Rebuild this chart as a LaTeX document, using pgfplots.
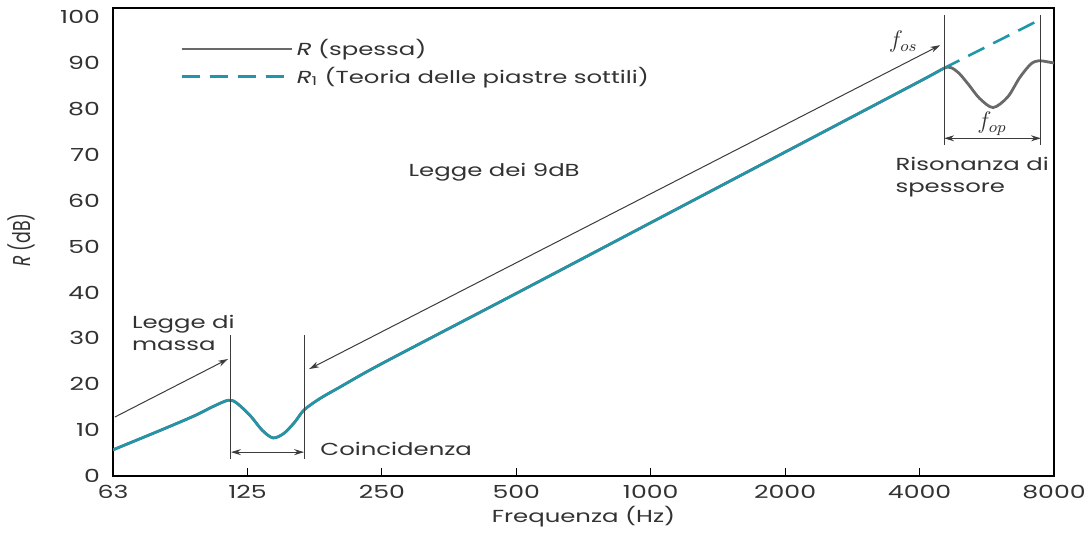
\documentclass[border=0pt]{standalone}
\usepackage{fontspec}
\usepackage{graphicx}
\setmainfont[FakeStretch=1.4]{Poppins}
\newfontfamily\uprightlabel{Poppins}
\usepackage{pgfplots}
\pgfplotsset{compat=1.18}
\usetikzlibrary{arrows.meta}

\definecolor{tealR}{RGB}{32,150,170}
\definecolor{grayR}{RGB}{105,105,105}
\definecolor{txt}{RGB}{50,50,50}
\definecolor{ann}{RGB}{60,60,60}

\begin{document}
\begin{tikzpicture}
\path[use as bounding box] (-56.5pt,-29pt) rectangle (486.5pt,238pt);
\begin{axis}[
  scale only axis,
  width=470.5pt, height=234pt,
  xmode=log, log basis x=2,
  xmin=62.5, xmax=8000,
  ymin=0, ymax=102,
  xtick={62.5,125,250,500,1000,2000,4000,8000},
  xticklabels={63,125,250,500,1000,2000,4000,8000},
  ytick={0,10,...,100},
  xtick pos=bottom, tick align=inside,
  ytick style={draw=none},
  major tick length=4pt,
  xtick style={line width=0.6pt, black},
  axis line style={line width=1pt, black},
  /pgf/number format/assume math mode=true,
  tick label style={font=\fontsize{9}{10}\selectfont, text=txt},
  xticklabel style={yshift=-1pt},
  yticklabel style={xshift=-3pt},
  xlabel={Frequenza (Hz)},
  ylabel={\scalebox{1}[1.4]{\uprightlabel\textit{R} (dB)}},
  label style={font=\fontsize{8.7}{10}\selectfont, text=txt},
  xlabel style={yshift=3pt},
  ylabel style={at={(axis description cs:-0.097,0.504)}, anchor=center},
  legend style={at={(0.071,0.942)}, anchor=north west, draw=none, fill=none,
    font=\fontsize{8.7}{10}\selectfont, text=txt, row sep=0pt,
    inner sep=0pt},
  legend cell align=left,
  legend image code/.code={\path (0pt,0pt) -- (55pt,0pt);
    \draw[#1] (0pt,0pt) -- (49pt,0pt);},
]

% legend entries
\addlegendimage{grayR, line width=1.1pt}
\addlegendentry{\textit{R} (spessa)}
\addlegendimage{tealR, line width=1.3pt, dash pattern=on 9pt off 5pt}
\addlegendentry{\textit{R}\textsubscript{1} (Teoria delle piastre sottili)}

% R, thick plate
\addplot[grayR, line width=1.4pt, smooth, tension=0.5, forget plot] coordinates {
  (62.5,5.7) (80,10.0) (95,13.1) (105,15.2) (113.1,16.5)
  (117.9,16.0) (126.7,13.2) (134.8,10.0) (142.6,8.3) (150.9,9.3)
  (159.7,11.8) (167.4,14.4) (181.8,16.9) (201.6,19.4) (250,24.5)
  (500,39.8) (1000,55.2) (2000,70.6) (4000,86.0) (4520,88.8)
  (4700,89.0) (4900,87.8) (5150,85.3) (5450,82.3) (5844,80.3)
  (6300,82.6) (6700,86.8) (7100,89.8) (7400,90.5) (7700,90.3) (8000,90.0)
};

% R1, thin plate theory (solid up to f_os)
\addplot[tealR, line width=1.25pt, smooth, tension=0.5, forget plot] coordinates {
  (62.5,5.7) (80,10.0) (95,13.1) (105,15.2) (113.1,16.5)
  (117.9,16.0) (126.7,13.2) (134.8,10.0) (142.6,8.3) (150.9,9.3)
  (159.7,11.8) (167.4,14.4) (181.8,16.9) (201.6,19.4) (250,24.5)
  (500,39.8) (1000,55.2) (2000,70.6) (4000,86.0) (4520,88.8)
};

% R1 extrapolated above f_os
\addplot[tealR, line width=1.3pt, dash pattern=on 9pt off 5pt, forget plot] coordinates {
  (4520,88.8) (7560,99.8)
};

% annotations
\begin{scope}[ann, line width=0.5pt]
  \draw[-{Stealth[length=5pt,width=3pt]}] (axis cs:63.1,12.85) -- (axis cs:113.1,25.5);
  \draw (axis cs:114.8,3.7) -- (axis cs:114.8,30.7);
  \draw (axis cs:167.4,3.7) -- (axis cs:167.4,30.7);
  \draw[{Stealth[length=5pt,width=3pt]}-{Stealth[length=5pt,width=3pt]}] (axis cs:114.8,5.2) -- (axis cs:167.4,5.2);
  \draw[{Stealth[length=5pt,width=3pt]}-{Stealth[length=5pt,width=3pt]}] (axis cs:171.8,23.3) -- (axis cs:4450,93.9);
  \draw (axis cs:4540,72.1) -- (axis cs:4540,100.4);
  \draw (axis cs:7480,72.1) -- (axis cs:7480,100.4);
  \draw[{Stealth[length=5pt,width=3pt]}-{Stealth[length=5pt,width=3pt]}] (axis cs:4540,73.6) -- (axis cs:7480,73.6);
\end{scope}

\begin{scope}[text=txt, font=\fontsize{8.7}{11}\selectfont, inner sep=0pt]
  \node[anchor=west] at (axis cs:286.5,66.2) {Legge dei 9dB};
  \node[anchor=north west, align=left] at (axis cs:68.8,35.2) {Legge di\\massa};
  \node[anchor=north west, align=left] at (axis cs:3527,69.5) {Risonanza di\\spessore};
  \node[anchor=west] at (axis cs:181.8,5.9) {Coincidenza};
  \node[font=\fontsize{12}{14}\selectfont] at (axis cs:3676,94.6) {$f_{os}$};
  \node[font=\fontsize{12}{14}\selectfont] at (axis cs:5812,76.8) {$f_{op}$};
\end{scope}

\end{axis}
\end{tikzpicture}
\end{document}
